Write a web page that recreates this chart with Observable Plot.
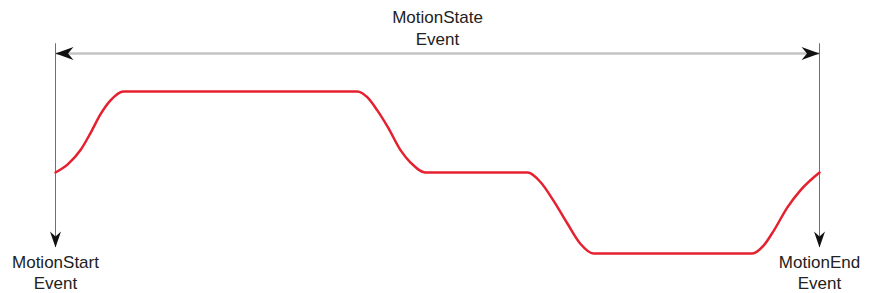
<!DOCTYPE html>
<html>
<head>
<meta charset="utf-8">
<script src="https://cdn.jsdelivr.net/npm/d3@7"></script>
<script src="https://cdn.jsdelivr.net/npm/@observablehq/plot@0.6"></script>
<style>
  html, body { margin: 0; padding: 0; background: #fff; }
  svg { display: block; }
</style>
</head>
<body>
<div id="chart"></div>
<script>
// Motion profile (time 0..100 between start and end events; level 1..3)
const motionTime  = [0, 1.6, 3.3, 4.6, 5.9, 7.2, 8.9, 39.5, 40.8, 42.1, 43.5, 45.2, 46.5, 48.4, 61.8, 63.5, 65.2, 67.0, 68.7, 70.4, 91.2, 92.7, 94.0, 95.8, 97.5, 100];
const motionLevel = [2.0, 2.1, 2.28, 2.49, 2.72, 2.89, 3.0, 3.0, 2.93, 2.77, 2.56, 2.27, 2.12, 2.0, 2.0, 1.88, 1.65, 1.37, 1.12, 1.0, 1.0, 1.1, 1.28, 1.57, 1.78, 2.0];

// Event markers
const eventTimes  = [0, 100];
const eventLabels = ["MotionStart\nEvent", "MotionEnd\nEvent"];
const stateLabel  = "MotionState\nEvent";

// Annotation levels (in the same level units as the profile)
const spanLevel   = 3.47;   // level of the MotionState span arrow
const eventTop    = 3.59;   // top of event lines
const eventBottom = 1.074;  // arrow tip of event lines

const profile = motionTime.map((t, i) => ({t, v: motionLevel[i]}));
const events = eventTimes.map((t, i) => ({t, label: eventLabels[i]}));

// notched (stealth) arrowheads, tip at origin pointing to +x
const stealth = {
  draw(ctx) {
    ctx.moveTo(0, 0);
    ctx.lineTo(-18, -6.5);
    ctx.lineTo(-12.5, 0);
    ctx.lineTo(-18, 6.5);
    ctx.closePath();
  }
};
const stealthDown = {
  draw(ctx) {
    ctx.moveTo(0, 0);
    ctx.lineTo(-16, -5.5);
    ctx.lineTo(-11, 0);
    ctx.lineTo(-16, 5.5);
    ctx.closePath();
  }
};

const font = "'Liberation Sans', Arial, sans-serif";

const chart = Plot.plot({
  width: 869,
  height: 293,
  marginLeft: 55,
  marginRight: 50,
  marginTop: 91,
  marginBottom: 40,
  x: {domain: [0, 100], axis: null},
  y: {domain: [1, 3], axis: null},
  style: {fontFamily: font, fontSize: "17px", color: "#222", background: "#fff", overflow: "visible"},
  marks: [
    // span line
    Plot.ruleY([spanLevel], {x1: 0, x2: 100, stroke: "#c4c4c4", strokeWidth: 2.6}),
    // event lines
    Plot.ruleX(events, {x: "t", y1: eventTop, y2: eventBottom, stroke: "#707070", strokeWidth: 1}),
    // span arrowheads
    Plot.dot(eventTimes, {x: d => d, y: spanLevel, symbol: stealth, rotate: d => d === 0 ? 180 : 0, fill: "#111", stroke: "none"}),
    // event arrowheads
    Plot.dot(eventTimes, {x: d => d, y: eventBottom, symbol: stealthDown, rotate: 90, fill: "#111", stroke: "none"}),
    // motion profile
    Plot.line(profile, {x: "t", y: "v", curve: "monotone-x", stroke: "#e5202f", strokeWidth: 2.5}),
    // labels
    Plot.text([stateLabel], {x: 50, y: spanLevel, text: d => d, lineAnchor: "bottom", dy: -8, lineHeight: 22/17, fill: "#222", fontSize: 17}),
    Plot.text(events, {x: "t", y: eventBottom, text: "label", lineAnchor: "top", dy: 6, lineHeight: 21/17, fill: "#222", fontSize: 17})
  ]
});
document.getElementById("chart").appendChild(chart);
</script>
</body>
</html>
